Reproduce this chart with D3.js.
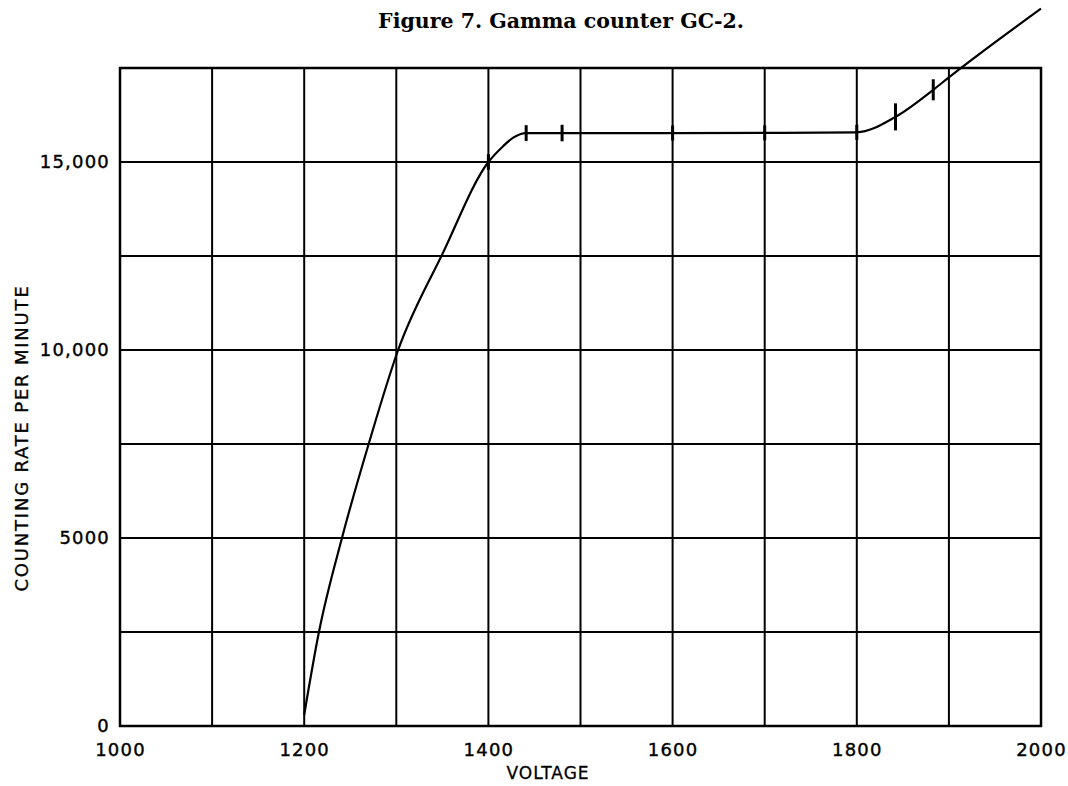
<!DOCTYPE html>
<html>
<head>
<meta charset="utf-8">
<script src="https://cdn.jsdelivr.net/npm/d3@7"></script>
<style>
  body { margin: 0; background: #fff; }
  svg { display: block; }
  .tick text { font-family: "DejaVu Sans", sans-serif; }
</style>
</head>
<body>
<script>
// curve (volts, counts per minute)
var curveVolts  = [1200, 1216, 1241, 1270, 1302, 1350, 1400, 1416, 1427, 1441, 1480, 1600, 1700, 1800, 1842, 1883, 1900, 2000];
var curveCounts = [300, 2500, 5000, 7500, 10000, 12550, 15000, 15420, 15650, 15770, 15770, 15770, 15775, 15790, 16200, 16920, 17250, 19080];

// measured points with their error bars (half height)
var pointVolts  = [1400, 1441, 1480, 1600, 1700, 1800, 1842, 1883];
var pointCounts = [15000, 15770, 15770, 15770, 15775, 15790, 16200, 16920];
var pointErr    = [210, 210, 220, 200, 200, 200, 360, 280];

var xTicks = [1000, 1200, 1400, 1600, 1800, 2000];
var yTicks = [0, 5000, 10000, 15000];
var yTickLabels = ["0", "5000", "10,000", "15,000"];

var W = 1068, H = 786;
var x = d3.scaleLinear().domain([1000, 2000]).range([120, 1041]);
var y = d3.scaleLinear().domain([0, 17500]).range([726, 68]);

var svg = d3.select("body").append("svg")
    .attr("width", W)
    .attr("height", H);

svg.append("text")
    .attr("x", 561)
    .attr("y", 28)
    .attr("text-anchor", "middle")
    .style("font-family", "DejaVu Serif, serif")
    .style("font-weight", "bold")
    .style("font-size", "20.5px")
    .text("Figure 7. Gamma counter GC-2.");

// grid
var grid = svg.append("g").attr("stroke", "#000").attr("stroke-width", 2);
grid.selectAll(".v").data(d3.range(1100, 2000, 100)).join("line")
    .attr("x1", d => x(d)).attr("x2", d => x(d))
    .attr("y1", y(17500)).attr("y2", y(0));
grid.selectAll(".h").data(d3.range(2500, 17500, 2500)).join("line")
    .attr("y1", d => y(d)).attr("y2", d => y(d))
    .attr("x1", x(1000)).attr("x2", x(2000));

svg.append("rect")
    .attr("x", x(1000)).attr("y", y(17500))
    .attr("width", x(2000) - x(1000)).attr("height", y(0) - y(17500))
    .attr("fill", "none").attr("stroke", "#000").attr("stroke-width", 2.5);

// tick labels
var xAxis = svg.append("g")
    .attr("transform", "translate(0," + y(0) + ")")
    .call(d3.axisBottom(x).tickValues(xTicks).tickSize(0).tickPadding(17).tickFormat(d3.format("d")));
var yAxis = svg.append("g")
    .attr("transform", "translate(" + x(1000) + ",0)")
    .call(d3.axisLeft(y).tickValues(yTicks).tickSize(0).tickPadding(10)
      .tickFormat((d, i) => yTickLabels[i]));
[xAxis, yAxis].forEach(function(g) {
  g.select(".domain").remove();
  g.selectAll("text")
    .attr("fill", "#000")
    .attr("stroke", "#000")
    .attr("stroke-width", 0.4)
    .style("font-size", "18px")
    .style("letter-spacing", "1.2px");
});

// curve
var line = d3.line()
    .x((d, i) => x(curveVolts[i]))
    .y((d, i) => y(curveCounts[i]))
    .curve(d3.curveMonotoneX);
svg.append("path")
    .datum(curveVolts)
    .attr("d", line)
    .attr("fill", "none")
    .attr("stroke", "#000")
    .attr("stroke-width", 2.2);

// error bars
svg.append("g").selectAll("line").data(pointVolts).join("line")
    .attr("x1", d => x(d)).attr("x2", d => x(d))
    .attr("y1", (d, i) => y(pointCounts[i] + pointErr[i]))
    .attr("y2", (d, i) => y(pointCounts[i] - pointErr[i]))
    .attr("stroke", "#000")
    .attr("stroke-width", 3);

// axis titles
svg.append("text")
    .attr("x", 548)
    .attr("y", 779)
    .attr("text-anchor", "middle")
    .attr("stroke", "#000")
    .attr("stroke-width", 0.3)
    .style("font-family", "DejaVu Sans, sans-serif")
    .style("font-size", "17px")
    .style("letter-spacing", "1px")
    .text("VOLTAGE");

svg.append("text")
    .attr("transform", "translate(28,438) rotate(-90)")
    .attr("text-anchor", "middle")
    .attr("stroke", "#000")
    .attr("stroke-width", 0.3)
    .style("font-family", "DejaVu Sans, sans-serif")
    .style("font-size", "18px")
    .style("letter-spacing", "1.8px")
    .text("COUNTING RATE PER MINUTE");
</script>
</body>
</html>
